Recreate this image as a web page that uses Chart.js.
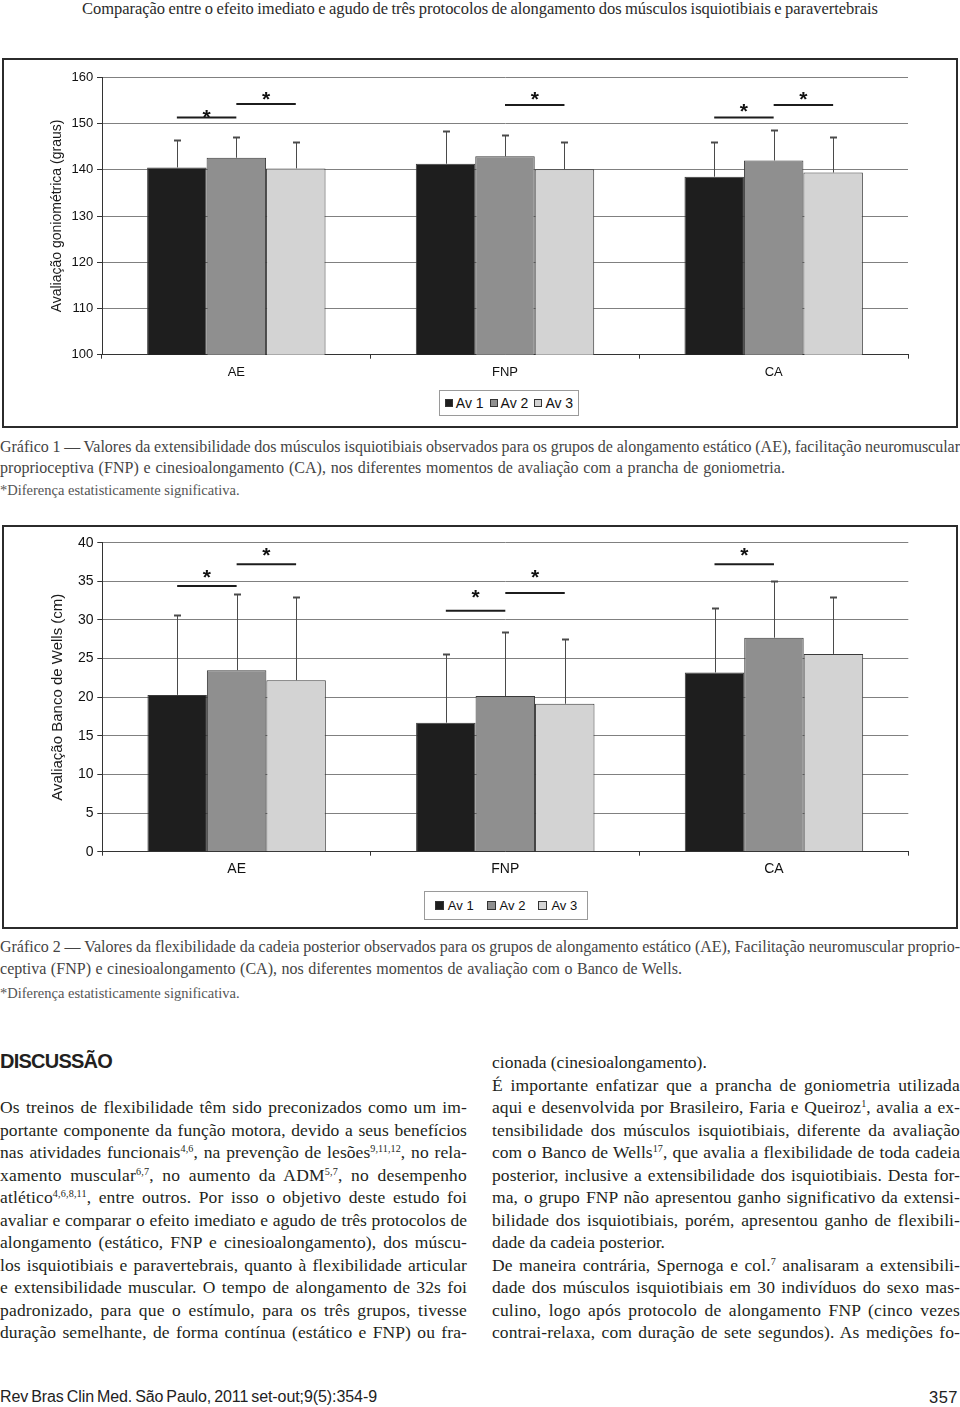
<!DOCTYPE html>
<html><head><meta charset="utf-8">
<script src="https://cdn.jsdelivr.net/npm/chart.js@4.4.1/dist/chart.umd.min.js"></script>
<style>
html,body{margin:0;padding:0;background:#fff;}
body{width:960px;height:1407px;position:relative;overflow:hidden;}
.ln{position:absolute;white-space:nowrap;font-family:"Liberation Serif","Times New Roman",serif;line-height:20px;height:20px;color:#231f20;}
.ln sup{font-size:0.58em;line-height:0;vertical-align:0.6em;}
.hd{color:#2a2a2a;font-size:16.5px;}
.cap{color:#444;font-size:16px;}
.ast{color:#555;font-size:14.5px;}
.bd{font-size:17.5px;}
.sans{font-family:"Liberation Sans Narrow","Liberation Sans",Arial,sans-serif;}
.frame{position:absolute;border:2px solid #2b2b2b;box-sizing:border-box;pointer-events:none;z-index:2;}
.cv{position:absolute;left:0;}
.legend{position:absolute;border:1px solid #9a9a9a;box-sizing:border-box;display:flex;align-items:center;justify-content:center;font-family:"Liberation Sans",Arial,sans-serif;color:#111;background:#fff;}
.legend .it{display:flex;align-items:center;}
.legend .sw{display:inline-block;border:1px solid #333;box-sizing:border-box;}
</style></head>
<body>
<div id="texts"></div>
<canvas id="c1" class="cv" width="960" height="366" style="top:60px"></canvas>
<div class="frame" style="left:2px;top:58px;width:956px;height:370px;"></div>
<div id="lg1" class="legend" style="left:439px;top:390px;width:140px;height:26px;font-size:14px;"></div>
<canvas id="c2" class="cv" width="960" height="400" style="top:527px"></canvas>
<div class="frame" style="left:2px;top:525px;width:956px;height:404px;"></div>
<div id="lg2" class="legend" style="left:424px;top:891px;width:164px;height:29px;font-size:13px;"></div>
<script>
// ---------- data ----------
const categories = ['AE', 'FNP', 'CA'];
const seriesNames = ['Av 1', 'Av 2', 'Av 3'];
const seriesColors = ['#1e1e1e', '#8f8f8f', '#d3d3d3'];

// Gráfico 1 – goniometria (graus)
const gonioAv1 = [140.5, 141.3, 138.5];
const gonioAv2 = [142.6, 142.9, 142.0];
const gonioAv3 = [140.3, 140.1, 139.4];
const gonioSdAv1 = [6.0, 7.1, 7.6];
const gonioSdAv2 = [4.4, 4.7, 6.6];
const gonioSdAv3 = [5.6, 5.8, 7.6];
const gonioTicks = [100, 110, 120, 130, 140, 150, 160];
const gonioSigCat = [0, 0, 1, 2, 2];
const gonioSigFrom = [0, 1, 1, 0, 1];
const gonioSigTo = [1, 2, 2, 1, 2];
const gonioSigLine = [151.3, 154.2, 154.0, 151.3, 154.0];
const gonioSigStar = [152.6, 156.5, 156.5, 153.8, 156.5];

// Gráfico 2 – Banco de Wells (cm)
const wellsAv1 = [20.3, 16.7, 23.2];
const wellsAv2 = [23.5, 20.15, 27.7];
const wellsAv3 = [22.2, 19.15, 25.6];
const wellsSdAv1 = [10.3, 8.95, 8.3];
const wellsSdAv2 = [9.9, 8.35, 7.4];
const wellsSdAv3 = [10.8, 8.35, 7.4];
const wellsTicks = [0, 5, 10, 15, 20, 25, 30, 35, 40];
const wellsSigCat = [0, 0, 1, 1, 2];
const wellsSigFrom = [0, 1, 0, 1, 0];
const wellsSigTo = [1, 2, 1, 2, 1];
const wellsSigLine = [34.4, 37.2, 31.2, 33.5, 37.2];
const wellsSigStar = [36.2, 39.1, 33.6, 36.2, 39.1];

// ---------- page text ----------
const textLines = [
  ['hd', 'Comparação entre o efeito imediato e agudo de três protocolos de alongamento dos músculos isquiotibiais e paravertebrais', 82, 9, 796],
  ['cap', 'Gráfico 1 — Valores da extensibilidade dos músculos isquiotibiais observados para os grupos de alongamento estático (AE), facilitação neuromuscular', 0, 447, 960],
  ['cap', 'proprioceptiva (FNP) e cinesioalongamento (CA), nos diferentes momentos de avaliação com a prancha de goniometria.', 0, 468, 785],
  ['ast', '*Diferença estatisticamente significativa.', 0, 490, null],
  ['cap', 'Gráfico 2 — Valores da flexibilidade da cadeia posterior observados para os grupos de alongamento estático (AE), Facilitação neuromuscular proprio-', 0, 947, 960],
  ['cap', 'ceptiva (FNP) e cinesioalongamento (CA), nos diferentes momentos de avaliação com o Banco de Wells.', 0, 969, 682],
  ['ast', '*Diferença estatisticamente significativa.', 0, 993, null],
  ['bd', 'Os treinos de flexibilidade têm sido preconizados como um im-', 0, 1107, 467],
  ['bd', 'portante componente da função motora, devido a seus benefícios', 0, 1130, 467],
  ['bd', 'nas atividades funcionais<sup>4,6</sup>, na prevenção de lesões<sup>9,11,12</sup>, no rela-', 0, 1152, 467],
  ['bd', 'xamento muscular<sup>6,7</sup>, no aumento da ADM<sup>5,7</sup>, no desempenho', 0, 1175, 467],
  ['bd', 'atlético<sup>4,6,8,11</sup>, entre outros. Por isso o objetivo deste estudo foi', 0, 1197, 467],
  ['bd', 'avaliar e comparar o efeito imediato e agudo de três protocolos de', 0, 1220, 467],
  ['bd', 'alongamento (estático, FNP e cinesioalongamento), dos múscu-', 0, 1242, 467],
  ['bd', 'los isquiotibiais e paravertebrais, quanto à flexibilidade articular', 0, 1265, 467],
  ['bd', 'e extensibilidade muscular. O tempo de alongamento de 32s foi', 0, 1287, 467],
  ['bd', 'padronizado, para que o estímulo, para os três grupos, tivesse', 0, 1310, 467],
  ['bd', 'duração semelhante, de forma contínua (estático e FNP) ou fra-', 0, 1332, 467],
  ['bd', 'cionada (cinesioalongamento).', 492, 1062, null],
  ['bd', 'É importante enfatizar que a prancha de goniometria utilizada', 492, 1085, 468],
  ['bd', 'aqui e desenvolvida por Brasileiro, Faria e Queiroz<sup>1</sup>, avalia a ex-', 492, 1107, 468],
  ['bd', 'tensibilidade dos músculos isquiotibiais, diferente da avaliação', 492, 1130, 468],
  ['bd', 'com o Banco de Wells<sup>17</sup>, que avalia a flexibilidade de toda cadeia', 492, 1152, 468],
  ['bd', 'posterior, inclusive a extensibilidade dos isquiotibiais. Desta for-', 492, 1175, 468],
  ['bd', 'ma, o grupo FNP não apresentou ganho significativo da extensi-', 492, 1197, 468],
  ['bd', 'bilidade dos isquiotibiais, porém, apresentou ganho de flexibili-', 492, 1220, 468],
  ['bd', 'dade da cadeia posterior.', 492, 1242, null],
  ['bd', 'De maneira contrária, Spernoga e col.<sup>7</sup> analisaram a extensibili-', 492, 1265, 468],
  ['bd', 'dade dos músculos isquiotibiais em 30 indivíduos do sexo mas-', 492, 1287, 468],
  ['bd', 'culino, logo após protocolo de alongamento FNP (cinco vezes', 492, 1310, 468],
  ['bd', 'contrai-relaxa, com duração de sete segundos). As medições fo-', 492, 1332, 468],
];
const sansLines = [
  ['DISCUSSÃO', 0, 1061, 112, 20, 'bold', '#231f20'],
  ['Rev Bras Clin Med. São Paulo, 2011 set-out;9(5):354-9', 0, 1397, 377, 16, 'normal', '#222'],
  ['357', 929, 1397, 29, 16.5, 'normal', '#222'],
];

const host = document.getElementById('texts');
function addLine(cls, html, x, cy, w, style) {
  const d = document.createElement('div');
  d.className = 'ln ' + cls;
  d.style.left = x + 'px';
  d.style.top = (cy - 10) + 'px';
  if (style) Object.assign(d.style, style);
  const s = document.createElement('span');
  s.innerHTML = html;
  d.appendChild(s);
  host.appendChild(d);
  if (w == null) return;
  const nat = s.getBoundingClientRect().width;
  const extra = w - nat;
  const txt = s.textContent;
  const nSp = (txt.match(/ /g) || []).length;
  const nCh = txt.length;
  if (nSp > 0) {
    s.style.letterSpacing = (extra * 0.3 / nCh) + 'px';
    s.style.wordSpacing = (extra * 0.7 / nSp) + 'px';
  } else {
    s.style.letterSpacing = (extra / nCh) + 'px';
  }
}
textLines.forEach(t => addLine(t[0], t[1], t[2], t[3], t[4]));
sansLines.forEach(t => addLine('sans', t[0], t[1], t[2], t[3], {fontSize: t[4] + 'px', fontWeight: t[5], color: t[6]}));

// ---------- legends ----------
function buildLegend(id, sw, gap, itemGap) {
  const el = document.getElementById(id);
  seriesNames.forEach((n, i) => {
    const it = document.createElement('span');
    it.className = 'it';
    if (i > 0) it.style.marginLeft = itemGap + 'px';
    const b = document.createElement('span');
    b.className = 'sw';
    b.style.width = sw + 'px'; b.style.height = sw + 'px';
    b.style.background = seriesColors[i];
    b.style.marginRight = gap + 'px';
    it.appendChild(b);
    it.appendChild(document.createTextNode(n));
    el.appendChild(it);
  });
}
buildLegend('lg1', 8, 3, 6);
buildLegend('lg2', 9, 4, 13);

// ---------- charts ----------
const annotPlugin = {
  id: 'annot',
  afterDatasetsDraw(chart, args, o) {
    const ctx = chart.ctx, ys = chart.scales.y;
    ctx.save();
    chart.data.datasets.forEach((ds, di) => {
      const meta = chart.getDatasetMeta(di);
      meta.data.forEach((bar, i) => {
        const v = ds.data[i], sd = o.sd[di][i];
        const x = Math.round(bar.x) + 0.5;
        const y0 = ys.getPixelForValue(v), y1 = Math.round(ys.getPixelForValue(v + sd)) + 0.5;
        ctx.strokeStyle = '#4a4a4a';
        ctx.lineWidth = 1;
        ctx.beginPath(); ctx.moveTo(x, y0); ctx.lineTo(x, y1); ctx.stroke();
        ctx.lineWidth = 2;
        ctx.beginPath(); ctx.moveTo(x - 3.5, y1); ctx.lineTo(x + 3.5, y1); ctx.stroke();
      });
    });
    const fs = o.starSize;
    ctx.font = 'bold ' + fs + 'px "Liberation Sans", Arial, sans-serif';
    ctx.textAlign = 'center';
    ctx.textBaseline = 'alphabetic';
    o.cat.forEach((c, k) => {
      const xa = chart.getDatasetMeta(o.from[k]).data[c].x;
      const xb = chart.getDatasetMeta(o.to[k]).data[c].x;
      const yl = ys.getPixelForValue(o.line[k]);
      ctx.strokeStyle = '#1c1c1c';
      ctx.lineWidth = 2;
      ctx.beginPath(); ctx.moveTo(xa, yl); ctx.lineTo(xb, yl); ctx.stroke();
      ctx.fillStyle = '#111';
      ctx.fillText('*', (xa + xb) / 2, ys.getPixelForValue(o.star[k]) + 0.58 * fs);
    });
    ctx.restore();
  }
};

function makeChart(id, cfg) {
  const datasets = cfg.values.map((vals, i) => ({
    label: seriesNames[i],
    data: vals,
    backgroundColor: seriesColors[i],
    borderColor: '#3a3a3a',
    borderWidth: 1,
    borderSkipped: 'bottom',
    barPercentage: 1,
    categoryPercentage: 0.664
  }));
  return new Chart(document.getElementById(id), {
    type: 'bar',
    data: { labels: categories, datasets },
    plugins: [annotPlugin],
    options: {
      responsive: false,
      animation: false,
      events: [],
      layout: { padding: { top: cfg.padTop, right: cfg.padRight, bottom: 0, left: 0 } },
      plugins: {
        legend: { display: false },
        tooltip: { enabled: false },
        annot: { sd: cfg.sd, cat: cfg.sigCat, from: cfg.sigFrom, to: cfg.sigTo, line: cfg.sigLine, star: cfg.sigStar, starSize: 21 }
      },
      scales: {
        x: {
          ticks: { color: '#111', font: { family: 'Liberation Sans', size: cfg.fontSize }, padding: cfg.xPad },
          grid: { display: true, drawOnChartArea: false, drawTicks: true, tickLength: 4, tickColor: '#333', offset: true },
          border: { color: '#333', width: 1 },
          afterFit(s) { s.height = cfg.xHeight; }
        },
        y: {
          min: cfg.ticks[0], max: cfg.ticks[cfg.ticks.length - 1],
          afterBuildTicks(s) { s.ticks = cfg.ticks.map(v => ({ value: v })); },
          ticks: { color: '#111', font: { family: 'Liberation Sans', size: cfg.fontSize }, padding: 3.7 },
          grid: { color: '#808080', lineWidth: 1, tickLength: 5, tickColor: '#333', drawTicks: true },
          border: { color: '#333', width: 1 },
          title: { display: true, text: cfg.title, color: '#1a1a1a', font: { family: 'Liberation Sans', size: cfg.titleSize }, padding: { top: cfg.titlePad, bottom: 0 } },
          afterFit(s) { s.width = cfg.yWidth; }
        }
      }
    }
  });
}

makeChart('c1', {
  values: [gonioAv1, gonioAv2, gonioAv3],
  sd: [gonioSdAv1, gonioSdAv2, gonioSdAv3],
  ticks: gonioTicks,
  sigCat: gonioSigCat, sigFrom: gonioSigFrom, sigTo: gonioSigTo, sigLine: gonioSigLine, sigStar: gonioSigStar,
  title: 'Avaliação goniométrica (graus)', titleSize: 14, titlePad: 49,
  fontSize: 13, padTop: 17.3, padRight: 52, xHeight: 71.3, xPad: 5.5, yWidth: 102
});
makeChart('c2', {
  values: [wellsAv1, wellsAv2, wellsAv3],
  sd: [wellsSdAv1, wellsSdAv2, wellsSdAv3],
  ticks: wellsTicks,
  sigCat: wellsSigCat, sigFrom: wellsSigFrom, sigTo: wellsSigTo, sigLine: wellsSigLine, sigStar: wellsSigStar,
  title: 'Avaliação Banco de Wells (cm)', titleSize: 15, titlePad: 49,
  fontSize: 14, padTop: 15.7, padRight: 51.7, xHeight: 75.3, xPad: 4.9, yWidth: 102.3
});
</script>
</body></html>
